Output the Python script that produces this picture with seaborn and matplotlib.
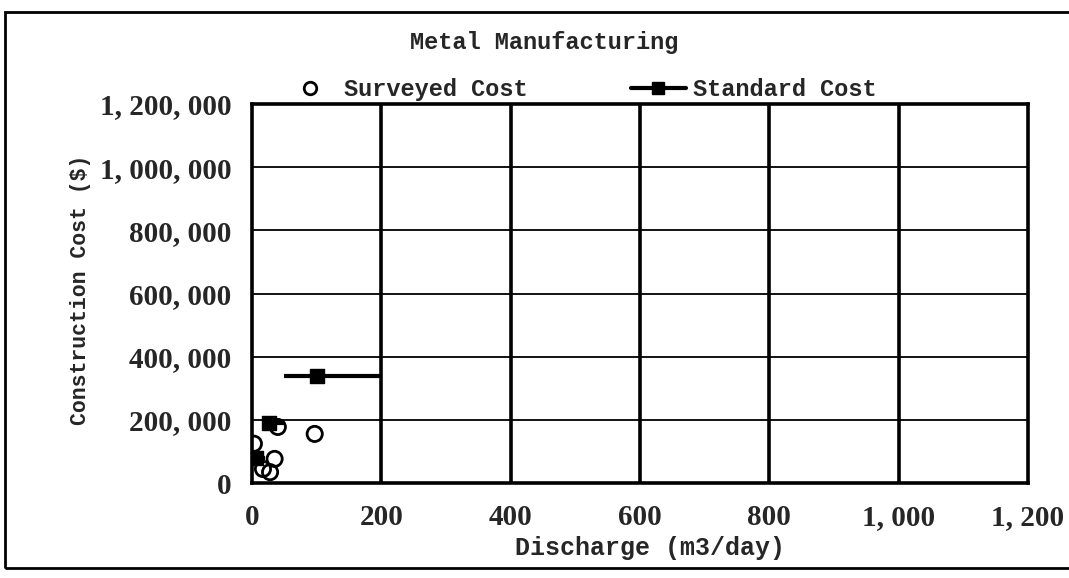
import numpy as np
import pandas as pd
import matplotlib
matplotlib.use('Agg')
import matplotlib.pyplot as plt
from matplotlib.lines import Line2D
from matplotlib.patches import Rectangle
from matplotlib.ticker import FuncFormatter
import seaborn as sns

#  surveyed construction costs (discharge m3/day, cost $)
survey_q = [97, 40, 3, 35, 17, 28]
survey_cost = [156000, 178000, 125000, 77000, 45000, 35000]

#  standard cost by discharge range
std_lo = [0, 20, 50]
std_hi = [20, 50, 200]
std_q = [6, 27, 100]
std_cost = [80000, 190000, 340000]

x_ticks = [0, 200, 400, 600, 800, 1000, 1200]
y_ticks = [0, 200000, 400000, 600000, 800000, 1000000, 1200000]

sns.set_theme(style='white')
plt.rcParams['font.family'] = ['Liberation Mono', 'DejaVu Sans']
plt.rcParams['font.weight'] = 'bold'

fig = plt.figure(figsize=(10.69, 5.78), dpi=100)
ax = fig.add_axes([0.2357, 0.164, 0.7260, 0.656])

#  thick vertical grid, thin horizontal grid
for xv in x_ticks[1:-1]:
    ax.axvline(xv, color='black', lw=2.6, zorder=1)
for yv in y_ticks[1:-1]:
    ax.axhline(yv, color='black', lw=1.3, zorder=1)

#  standard cost segments + markers
ax.hlines(std_cost, std_lo, std_hi, color='black', lw=3, zorder=3)
std_df = pd.DataFrame({'q': std_q, 'cost': std_cost})
sns.scatterplot(data=std_df, x='q', y='cost', marker='s', s=110, color='black',
                edgecolor='black', linewidth=1, ax=ax, zorder=4)

#  surveyed costs as open circles
sv_df = pd.DataFrame({'q': survey_q, 'cost': survey_cost})
sns.scatterplot(data=sv_df, x='q', y='cost', marker='o', s=120, facecolor='none',
                edgecolor='black', linewidth=2, ax=ax, zorder=5)

ax.set_xlim(0, 1200)
ax.set_ylim(0, 1200000)
ax.set_xticks(x_ticks)
ax.set_yticks(y_ticks)
fmt = FuncFormatter(lambda v, p: '{:,}'.format(int(v)).replace(',', ', '))
ax.xaxis.set_major_formatter(fmt)
ax.yaxis.set_major_formatter(fmt)
ax.tick_params(axis='both', length=0, labelsize=21)
ax.tick_params(axis='x', pad=15)
ax.tick_params(axis='y', pad=15)
for lab in ax.get_xticklabels() + ax.get_yticklabels():
    lab.set_family(['Liberation Serif', 'DejaVu Serif'])
    lab.set_fontweight('bold')

for sp in ax.spines.values():
    sp.set_visible(True)
    sp.set_color('black')
    sp.set_linewidth(2.6)

ax.set_xlabel('Discharge (m3/day)', fontsize=18, fontweight='bold')
ax.xaxis.set_label_coords(0.513, -0.138)
ax.set_ylabel('Construction Cost ($)', fontsize=15.5, fontweight='bold')
ax.yaxis.set_label_coords(-0.207, 0.51)

fig.text(0.509, 0.926, 'Metal Manufacturing', ha='center', va='center',
         fontsize=17, fontweight='bold')

#  legend row
handles = [Line2D([], [], ls='none', marker='o', markersize=9, markerfacecolor='none',
                  markeredgecolor='black', markeredgewidth=2),
           Line2D([], [], color='black', lw=3, marker='s', markersize=9)]
fig.legend(handles, ['Surveyed Cost', 'Standard Cost'], loc='center',
           bbox_to_anchor=(0.542, 0.845), ncol=2, frameon=False, fontsize=17,
           columnspacing=4.4, handlelength=2.3, handletextpad=0.3)

#  outer frame of the scanned page
fig.patches.append(Rectangle((0.005, 0.018), 1.2, 0.962, transform=fig.transFigure,
                             fill=False, edgecolor='black', lw=2))

fig.savefig('out.png', dpi=100)
